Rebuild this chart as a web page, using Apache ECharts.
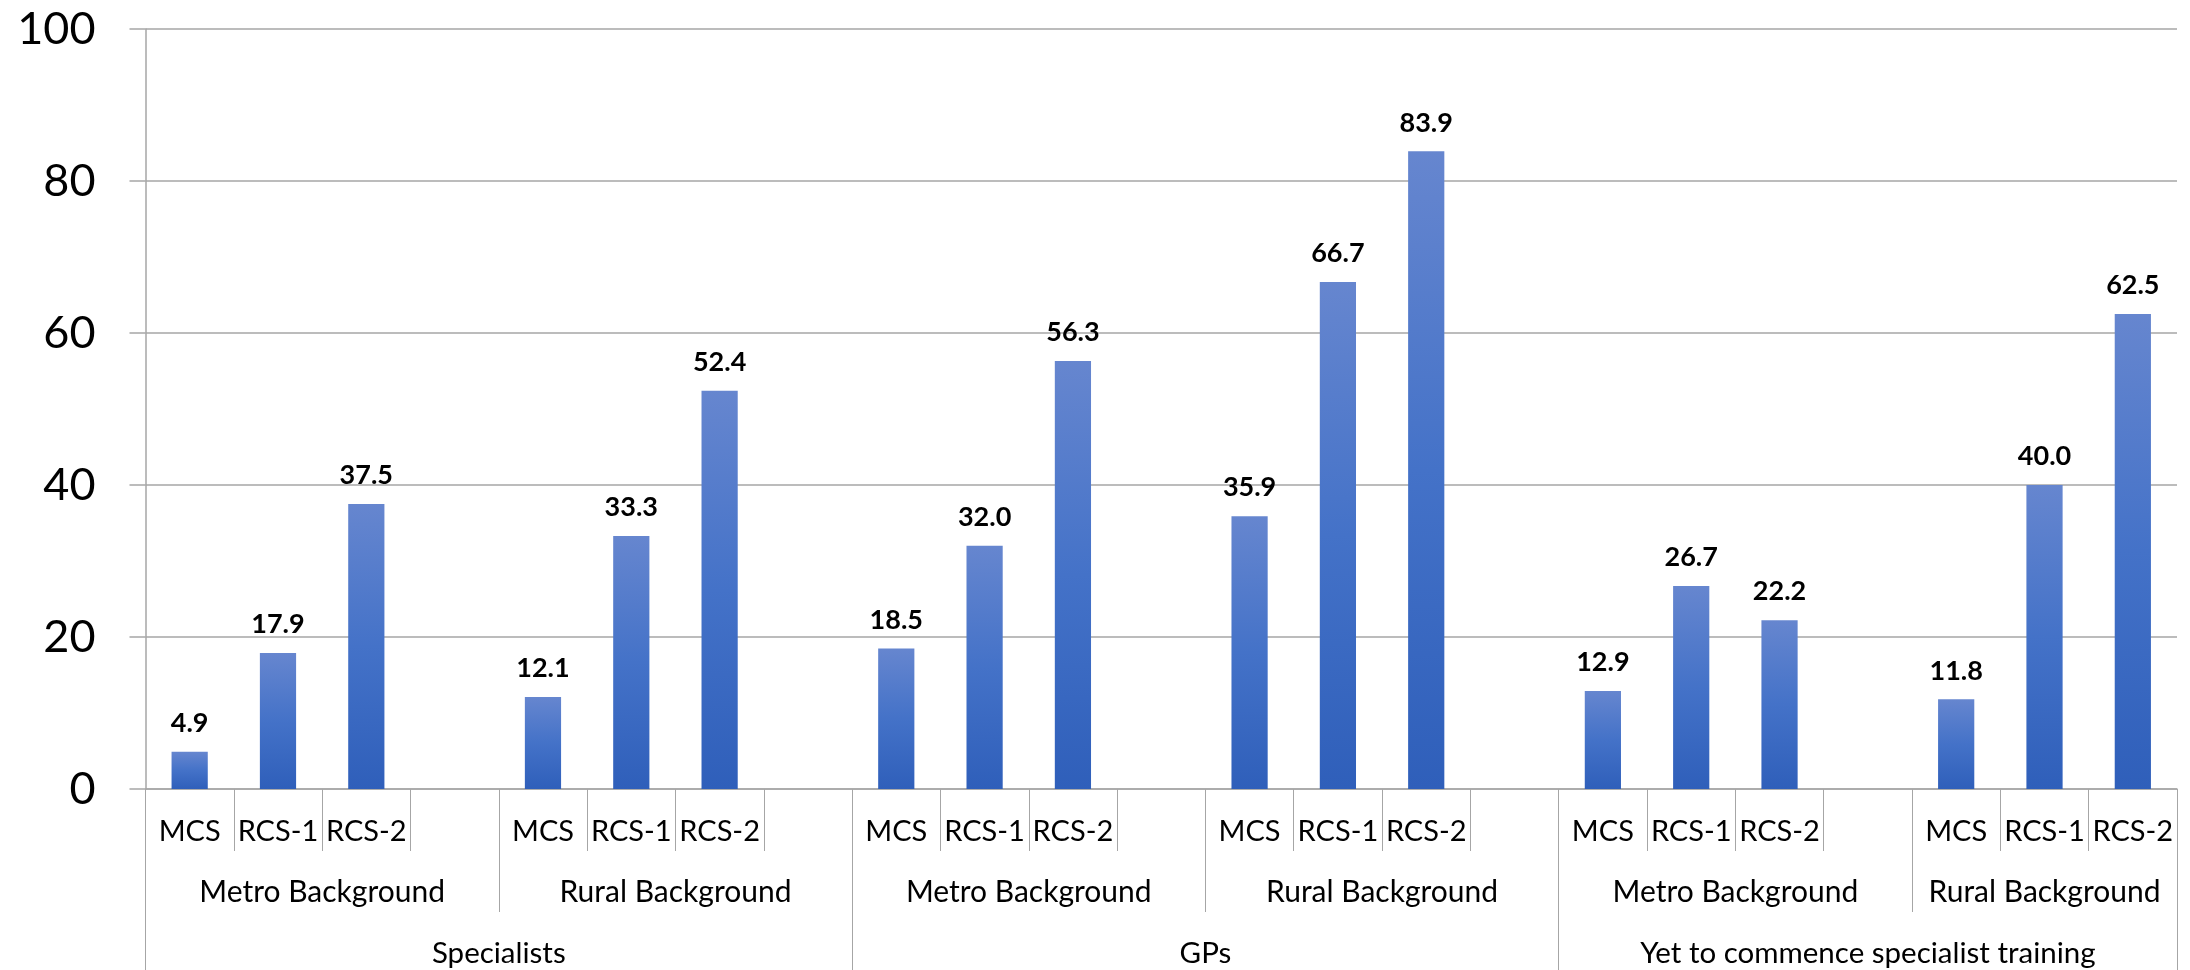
<!DOCTYPE html>
<html>
<head>
<meta charset="utf-8">
<title>Rural practice by background and cohort</title>
<script src="https://cdn.jsdelivr.net/npm/echarts@6/dist/echarts.min.js"></script>
<style>
  html, body { margin: 0; padding: 0; background: #ffffff; }
  #chart { width: 2190px; height: 970px; }
</style>
</head>
<body>
<div id="chart"></div>
<script>
// Category hierarchy: cohort -> background -> clinical school stream
const cohorts = ['Specialists', 'GPs', 'Yet to commence specialist training'];
const backgrounds = ['Metro Background', 'Rural Background'];
const streams = ['MCS', 'RCS-1', 'RCS-2'];

// Percentages per cohort, [metro, rural], each in stream order
const specialistsValues = [[4.9, 17.9, 37.5], [12.1, 33.3, 52.4]];
const gpsValues = [[18.5, 32.0, 56.3], [35.9, 66.7, 83.9]];
const yetToCommenceValues = [[12.9, 26.7, 22.2], [11.8, 40.0, 62.5]];

const yTicks = [0, 20, 40, 60, 80, 100];

// Flatten into one slot per bar, with a spacer slot after every background block
// except the very last one.
const allValues = [specialistsValues, gpsValues, yetToCommenceValues];
const slotLabels = [];
const slotValues = [];
const bgBounds = [0];       // slot boundaries of background blocks
const bgCenters = [];       // [position, name]
const cohortBounds = [0];
const cohortCenters = [];
allValues.forEach((cohortVals, ci) => {
  const cohortStart = slotLabels.length;
  cohortVals.forEach((bgVals, bi) => {
    const start = slotLabels.length;
    bgVals.forEach((v, si) => { slotLabels.push(streams[si]); slotValues.push(v); });
    const isLast = ci === allValues.length - 1 && bi === cohortVals.length - 1;
    if (!isLast) { slotLabels.push(''); slotValues.push(null); }
    const end = slotLabels.length;
    bgBounds.push(end);
    bgCenters.push([(start + end) / 2, backgrounds[bi]]);
  });
  const cohortEnd = slotLabels.length;
  cohortBounds.push(cohortEnd);
  cohortCenters.push([(cohortStart + cohortEnd) / 2, cohorts[ci]]);
});
const nSlots = slotLabels.length;

const FONT = 'Lato, "Open Sans", "Noto Sans", sans-serif';
const LINE = '#a6a6a6';
const TEXT = '#000000';

const nameAt = (list) => (val) => {
  const hit = list.find(p => Math.abs(p[0] - val) < 1e-6);
  return hit ? hit[1] : '';
};

const chart = echarts.init(document.getElementById('chart'), null, { renderer: 'canvas' });
chart.setOption({
  animation: false,
  backgroundColor: '#ffffff',
  grid: { left: 145.5, right: 13, top: 29, bottom: 181, containLabel: false },
  xAxis: [
    {
      type: 'category',
      data: slotLabels,
      boundaryGap: true,
      axisLine: { show: true, lineStyle: { color: LINE, width: 1.5 } },
      axisTick: { show: true, length: 62, interval: 0, lineStyle: { color: LINE, width: 1 } },
      axisLabel: {
        interval: 0, margin: 27, color: TEXT, fontFamily: FONT, fontSize: 29, lineHeight: 32
      },
      splitLine: { show: false }
    },
    {
      type: 'value',
      min: 0, max: nSlots,
      position: 'bottom',
      axisLine: { show: false },
      axisTick: { show: true, length: 123, customValues: bgBounds, lineStyle: { color: LINE, width: 1 } },
      axisLabel: {
        customValues: bgCenters.map(p => p[0]), formatter: nameAt(bgCenters),
        margin: 87, color: TEXT, fontFamily: FONT, fontSize: 30, lineHeight: 32
      },
      splitLine: { show: false }
    },
    {
      type: 'value',
      min: 0, max: nSlots,
      position: 'bottom',
      axisLine: { show: false },
      axisTick: { show: true, length: 185, customValues: cohortBounds, lineStyle: { color: LINE, width: 1 } },
      axisLabel: {
        customValues: cohortCenters.map(p => p[0]), formatter: nameAt(cohortCenters),
        margin: 148, color: TEXT, fontFamily: FONT, fontSize: 29.5, lineHeight: 32
      },
      splitLine: { show: false }
    }
  ],
  yAxis: {
    type: 'value',
    min: yTicks[0], max: yTicks[yTicks.length - 1], interval: 20,
    axisLine: { show: true, lineStyle: { color: LINE, width: 1.5 } },
    axisTick: { show: true, length: 16, lineStyle: { color: LINE, width: 1.5 } },
    axisLabel: { margin: 50, color: TEXT, fontFamily: FONT, fontSize: 45 },
    splitLine: { show: true, lineStyle: { color: LINE, width: 1.5 } }
  },
  series: [{
    type: 'bar',
    xAxisIndex: 0,
    yAxisIndex: 0,
    data: slotValues,
    barWidth: '41%',
    itemStyle: {
      color: new echarts.graphic.LinearGradient(0, 0, 0, 1, [
        { offset: 0, color: '#6686cf' },
        { offset: 0.5, color: '#4472c8' },
        { offset: 1, color: '#2f5fba' }
      ])
    },
    label: {
      show: true,
      position: 'top',
      distance: 15,
      color: TEXT,
      fontFamily: FONT,
      fontWeight: 'bold',
      fontSize: 27,
      formatter: (p) => (p.value == null ? '' : Number(p.value).toFixed(1))
    }
  }]
});
</script>
</body>
</html>
